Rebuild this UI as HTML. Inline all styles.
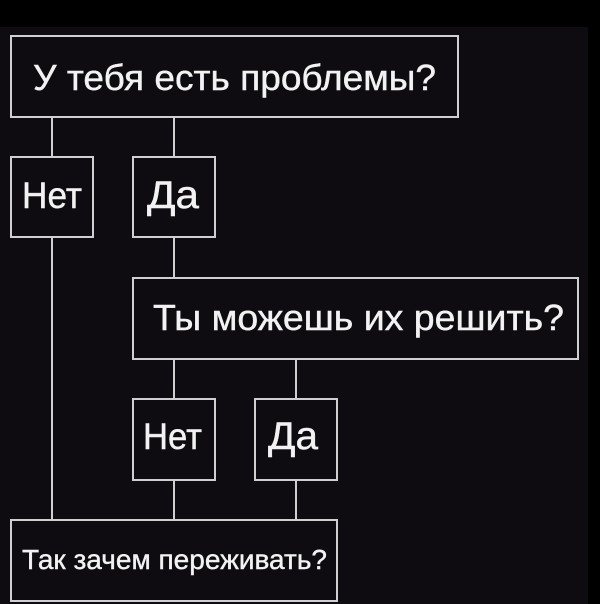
<!DOCTYPE html>
<html><head><meta charset="utf-8"><style>
html,body{margin:0;padding:0;background:#000;}
svg{display:block;}
text{font-family:"Liberation Sans",sans-serif;fill:#f2f2f2;stroke:#f2f2f2;stroke-width:0.4;}
</style></head><body>
<svg width="600" height="604" viewBox="0 0 600 604" xmlns="http://www.w3.org/2000/svg">
<rect x="0" y="0" width="600" height="604" fill="#000"/>
<rect x="0" y="27" width="588" height="577" fill="#0e0c10"/>
<g fill="none" stroke="#cfcfcf" stroke-width="2">
<rect x="11" y="36" width="447" height="81"/>
<line x1="52" y1="117" x2="52" y2="157"/>
<line x1="174" y1="117" x2="174" y2="157"/>
<rect x="11" y="157" width="82" height="80"/>
<rect x="133" y="157" width="82" height="80"/>
<line x1="52" y1="237" x2="52" y2="520"/>
<line x1="174" y1="237" x2="174" y2="278"/>
<rect x="133" y="278" width="445" height="81"/>
<line x1="174" y1="359" x2="174" y2="399"/>
<line x1="296" y1="359" x2="296" y2="399"/>
<rect x="133" y="399" width="82" height="81"/>
<rect x="255" y="399" width="82" height="81"/>
<line x1="174" y1="480" x2="174" y2="520"/>
<line x1="296" y1="480" x2="296" y2="520"/>
<rect x="11" y="520" width="326" height="81"/>
</g>
<text x="33" y="90" font-size="36" textLength="403" lengthAdjust="spacingAndGlyphs">У тебя есть проблемы?</text>
<text x="22" y="208" font-size="37" textLength="60" lengthAdjust="spacingAndGlyphs">Нет</text>
<text x="147" y="208" font-size="39" textLength="52" lengthAdjust="spacingAndGlyphs">Да</text>
<text x="153" y="330" font-size="36" textLength="411" lengthAdjust="spacingAndGlyphs">Ты можешь их решить?</text>
<text x="143" y="449" font-size="37" textLength="59" lengthAdjust="spacingAndGlyphs">Нет</text>
<text x="268" y="449" font-size="39" textLength="50" lengthAdjust="spacingAndGlyphs">Да</text>
<text x="22" y="569" font-size="28" textLength="305" lengthAdjust="spacingAndGlyphs">Так зачем переживать?</text>
</svg>
</body></html>
